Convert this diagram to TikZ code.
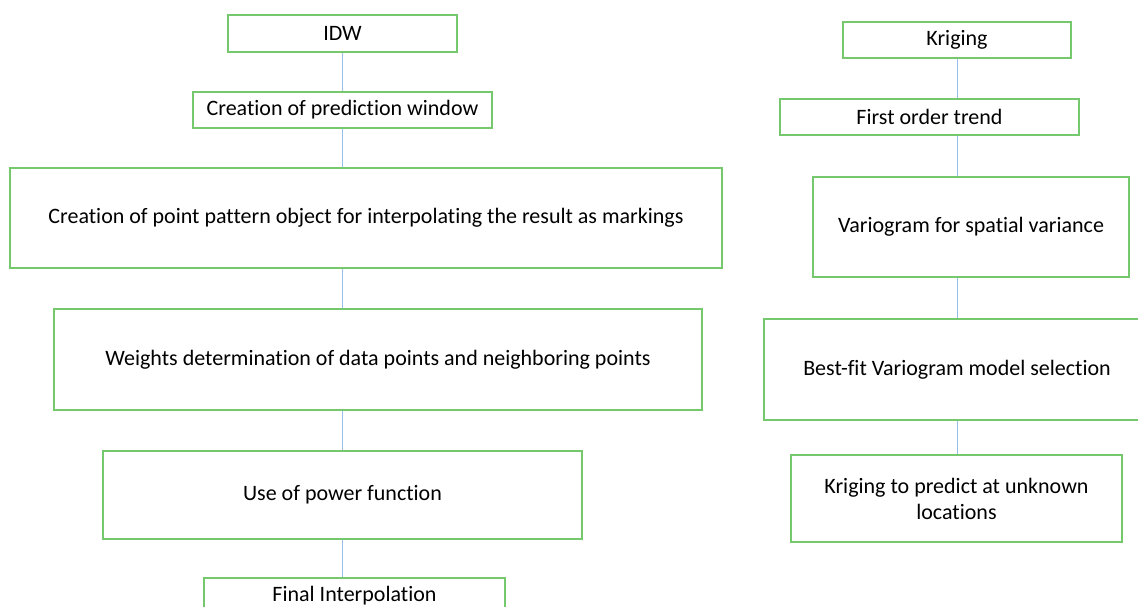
\documentclass[tikz,border=0pt]{standalone}
\usepackage{fontspec}
\setmainfont[Ligatures=NoCommon]{Carlito}
\usetikzlibrary{positioning}
\definecolor{boxGreen}{RGB}{118,200,108}
\definecolor{linkBlue}{RGB}{150,190,232}

\begin{document}
\begin{tikzpicture}[
    x=1pt, y=-1pt,
    font=\fontsize{22}{26}\selectfont,
    stepBox/.style={
        rectangle, draw=boxGreen, line width=1.7pt,
        fill=white, align=center, inner sep=0pt
    },
    linkLine/.style={
        line width=1pt, draw=linkBlue
    }
]
\useasboundingbox (0,0) rectangle (1138,607);
\clip (0,0) rectangle (1138,607);

% Left: IDW chain
\node[stepBox, minimum width=229pt, minimum height=37pt] (idw) at (342.5,33.5) {IDW};
\node[stepBox, minimum width=299pt, minimum height=36pt] (window) at (342.5,110) {Creation of prediction window};
\node[stepBox, minimum width=712pt, minimum height=100pt] (pattern) at (366,218) {Creation of point pattern object for interpolating the result as markings};
\node[stepBox, minimum width=648pt, minimum height=101pt] (weights) at (378,359.5) {Weights determination of data points and neighboring points};
\node[stepBox, minimum width=479pt, minimum height=88pt] (power) at (342.5,495) {Use of power function};
\node[stepBox, minimum width=301pt, minimum height=38pt] (final) at (354.5,597) {};
\node (finalText) at (354.5,596) {Final Interpolation};

% Right: Kriging chain
\node[stepBox, minimum width=228pt, minimum height=36pt] (kriging) at (957,40) {Kriging};
\node[stepBox, minimum width=299pt, minimum height=36pt] (trend) at (929.5,117) {First order trend};
\node[stepBox, minimum width=316pt, minimum height=100pt] (variogram) at (971,227) {Variogram for spatial variance};
\node[stepBox, minimum width=386pt, minimum height=101pt] (bestfit) at (957,369.5) {Best-fit Variogram model selection};
\node[stepBox, minimum width=331pt, minimum height=87pt] (predict) at (956.5,498.5) {Kriging to predict at unknown\\locations};

% Links
\draw[linkLine] (idw.south) -- (window.north);
\draw[linkLine] (window.south) -- (window.south |- pattern.north);
\draw[linkLine] (window.south |- pattern.south) -- (window.south |- weights.north);
\draw[linkLine] (window.south |- weights.south) -- (power.north);
\draw[linkLine] (power.south) -- (power.south |- final.north);

\draw[linkLine] (kriging.south) -- (kriging.south |- trend.north);
\draw[linkLine] (kriging.south |- trend.south) -- (kriging.south |- variogram.north);
\draw[linkLine] (kriging.south |- variogram.south) -- (bestfit.north);
\draw[linkLine] (bestfit.south) -- (bestfit.south |- predict.north);

\end{tikzpicture}
\end{document}
